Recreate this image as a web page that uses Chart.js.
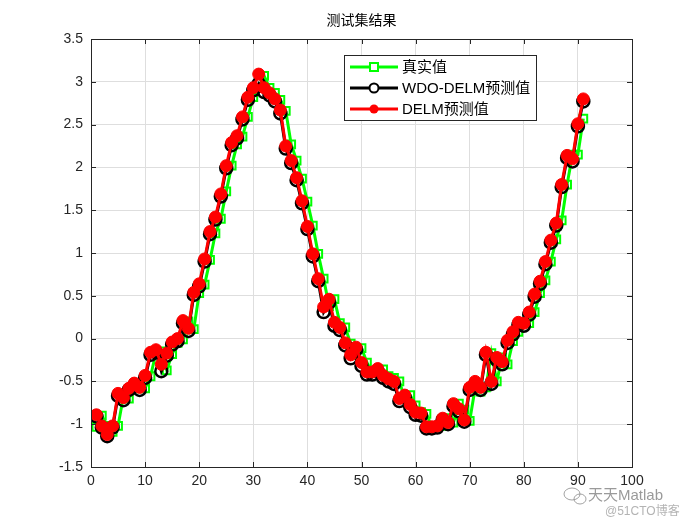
<!DOCTYPE html>
<html>
<head>
<meta charset="utf-8">
<script src="https://cdn.jsdelivr.net/npm/chart.js@4/dist/chart.umd.min.js"></script>
<style>
html,body{margin:0;padding:0;background:#fff;}
#wrap{width:700px;height:525px;position:relative;}
</style>
</head>
<body>
<div id="wrap"><canvas id="c" width="700" height="525"></canvas></div>
<script>
const titleText = "测试集结果";
const seriesNames = ["真实值", "WDO-DELM预测值", "DELM预测值"];
const xTicks = [0,10,20,30,40,50,60,70,80,90,100];
const yTicks = [-1.5,-1,-0.5,0,0.5,1,1.5,2,2.5,3,3.5];

const trueVals = [-1.03,-0.90,-1.02,-1.09,-1.02,-0.67,-0.70,-0.58,-0.53,-0.58,
 -0.44,-0.17,-0.15,-0.37,-0.18,-0.05,-0.01,0.20,0.11,0.53,
 0.63,0.92,1.23,1.40,1.72,2.02,2.27,2.36,2.59,2.82,
 2.93,3.07,2.93,2.87,2.79,2.66,2.27,2.08,1.87,1.60,
 1.32,0.99,0.70,0.38,0.46,0.18,0.13,-0.06,-0.19,-0.11,
 -0.28,-0.40,-0.38,-0.36,-0.44,-0.46,-0.50,-0.70,-0.66,-0.78,
 -0.86,-0.88,-1.03,-1.03,-1.02,-0.93,-0.98,-0.76,-0.83,-0.96,
 -0.58,-0.62,-0.57,-0.17,-0.50,-0.22,-0.30,-0.03,0.08,0.19,
 0.18,0.31,0.53,0.68,0.90,1.16,1.38,1.80,2.15,2.15,2.57];

const wdoVals = [-0.91,-1.04,-1.14,-1.04,-0.67,-0.72,-0.60,-0.55,-0.60,-0.46,
 -0.19,-0.16,-0.38,-0.20,-0.07,-0.03,0.18,0.09,0.51,0.61,
 0.90,1.22,1.39,1.66,1.99,2.26,2.34,2.56,2.79,2.90,
 2.98,2.88,2.84,2.77,2.63,2.22,2.05,1.85,1.58,1.28,
 0.96,0.67,0.31,0.42,0.15,0.10,-0.08,-0.23,-0.13,-0.32,
 -0.42,-0.42,-0.38,-0.46,-0.50,-0.53,-0.73,-0.69,-0.80,-0.89,
 -0.90,-1.05,-1.05,-1.04,-0.95,-1.00,-0.79,-0.85,-0.97,-0.60,
 -0.53,-0.60,-0.19,-0.53,-0.25,-0.30,-0.05,0.05,0.16,0.15,
 0.28,0.49,0.64,0.87,1.12,1.32,1.77,2.11,2.07,2.48,2.77];

const delmVals = [-0.89,-1.02,-1.12,-1.02,-0.64,-0.69,-0.58,-0.52,-0.57,-0.43,
 -0.16,-0.13,-0.30,-0.17,-0.04,0.00,0.21,0.12,0.54,0.64,
 0.93,1.25,1.42,1.69,2.02,2.29,2.37,2.59,2.82,2.93,
 3.09,2.93,2.87,2.80,2.67,2.25,2.08,1.88,1.61,1.31,
 0.99,0.70,0.37,0.46,0.19,0.13,-0.05,-0.19,-0.10,-0.28,
 -0.39,-0.39,-0.35,-0.43,-0.47,-0.50,-0.70,-0.66,-0.77,-0.86,
 -0.87,-1.03,-1.03,-1.02,-0.93,-0.98,-0.76,-0.82,-0.95,-0.57,
 -0.50,-0.57,-0.16,-0.50,-0.22,-0.27,-0.02,0.08,0.19,0.18,
 0.31,0.52,0.67,0.90,1.15,1.35,1.80,2.14,2.10,2.51,2.80];

const idx = trueVals.map((_, i) => i + 1);
const toPts = arr => arr.map((v, i) => ({x: idx[i], y: v}));

const FONT = "'Liberation Sans','Noto Sans CJK SC',Arial,sans-serif";
const AXIS_COLOR = '#262626';

const framePlugin = {
  id: 'frame',
  beforeDraw(chart) {
    const ctx = chart.ctx;
    ctx.save();
    ctx.fillStyle = '#fff';
    ctx.fillRect(0, 0, chart.width, chart.height);
    ctx.restore();
  },
  afterDatasetsDraw(chart) {
    const {ctx, chartArea: a, scales} = chart;
    ctx.save();
    ctx.strokeStyle = AXIS_COLOR;
    ctx.lineWidth = 1;
    ctx.strokeRect(Math.round(a.left) + 0.5, Math.round(a.top) + 0.5, Math.round(a.right - a.left), Math.round(a.bottom - a.top));
    const tl = 5;
    ctx.beginPath();
    xTicks.forEach(t => {
      const px = Math.round(scales.x.getPixelForValue(t)) + 0.5;
      ctx.moveTo(px, a.bottom); ctx.lineTo(px, a.bottom - tl);
      ctx.moveTo(px, a.top); ctx.lineTo(px, a.top + tl);
    });
    yTicks.forEach(t => {
      const py = Math.round(scales.y.getPixelForValue(t)) + 0.5;
      ctx.moveTo(a.left, py); ctx.lineTo(a.left + tl, py);
      ctx.moveTo(a.right, py); ctx.lineTo(a.right - tl, py);
    });
    ctx.stroke();
    // title
    ctx.fillStyle = '#000';
    ctx.font = '14px ' + FONT;
    ctx.textAlign = 'center';
    ctx.textBaseline = 'middle';
    ctx.fillText(titleText, (a.left + a.right) / 2, 21);
    // legend
    const lx = 344, ly = 55, lw = 192, lh = 65;
    ctx.fillStyle = '#fff';
    ctx.fillRect(lx, ly, lw, lh);
    ctx.strokeStyle = AXIS_COLOR;
    ctx.lineWidth = 1;
    ctx.strokeRect(lx + 0.5, ly + 0.5, lw, lh);
    const rows = [
      {c: '#00ff00', m: 'sq', y: 67},
      {c: '#000000', m: 'oc', y: 88},
      {c: '#ff0000', m: 'fc', y: 109}
    ];
    rows.forEach((r, i) => {
      ctx.strokeStyle = r.c;
      ctx.lineWidth = 3;
      ctx.beginPath();
      ctx.moveTo(350, r.y); ctx.lineTo(398, r.y);
      ctx.stroke();
      ctx.lineWidth = 2;
      if (r.m === 'sq') {
        ctx.fillStyle = '#fff';
        ctx.fillRect(370, r.y - 4, 8, 8);
        ctx.strokeRect(370, r.y - 4, 8, 8);
      } else if (r.m === 'oc') {
        ctx.beginPath(); ctx.arc(374, r.y, 4.5, 0, Math.PI * 2);
        ctx.fillStyle = '#fff'; ctx.fill(); ctx.stroke();
      } else {
        ctx.beginPath(); ctx.arc(374, r.y, 4.5, 0, Math.PI * 2);
        ctx.fillStyle = r.c; ctx.fill();
      }
      ctx.fillStyle = '#000';
      ctx.font = '15px ' + FONT;
      ctx.textAlign = 'left';
      ctx.textBaseline = 'middle';
      ctx.fillText(seriesNames[i], 402, r.y + 1);
    });
    // watermark
    ctx.fillStyle = 'rgba(120,120,120,0.75)';
    ctx.font = '15px ' + FONT;
    ctx.textAlign = 'left';
    ctx.fillText('天天Matlab', 588, 496);
    ctx.font = '12px ' + FONT;
    ctx.fillStyle = 'rgba(160,160,160,0.8)';
    ctx.fillText('@51CTO博客', 605, 512);
    ctx.strokeStyle = 'rgba(140,140,140,0.8)';
    ctx.lineWidth = 1;
    ctx.beginPath(); ctx.ellipse(572, 494, 8, 6, 0, 0, Math.PI * 2); ctx.stroke();
    ctx.beginPath(); ctx.ellipse(580, 499, 6, 5, 0, 0, Math.PI * 2); ctx.stroke();
    ctx.restore();
  }
};

new Chart(document.getElementById('c'), {
  type: 'line',
  data: {
    datasets: [
      {
        label: seriesNames[2], data: toPts(delmVals), order: 1,
        borderColor: '#ff0000', borderWidth: 3, backgroundColor: '#ff0000',
        pointStyle: 'circle', pointRadius: 6, pointBackgroundColor: '#ff0000',
        pointBorderColor: '#ff0000', pointBorderWidth: 1, tension: 0
      },
      {
        label: seriesNames[1], data: toPts(wdoVals), order: 2,
        borderColor: '#000000', borderWidth: 3,
        pointStyle: 'circle', pointRadius: 6, pointBackgroundColor: 'rgba(0,0,0,0)',
        pointBorderColor: '#000000', pointBorderWidth: 2.5, tension: 0
      },
      {
        label: seriesNames[0], data: toPts(trueVals), order: 3,
        borderColor: '#00ff00', borderWidth: 3,
        pointStyle: 'rect', pointRadius: 5.5, pointBackgroundColor: 'rgba(0,0,0,0)',
        pointBorderColor: '#00ff00', pointBorderWidth: 2, tension: 0
      }
    ]
  },
  options: {
    responsive: false,
    animation: false,
    devicePixelRatio: 1,
    layout: {padding: {left: 0, right: 68, top: 39, bottom: 0}},
    plugins: {legend: {display: false}, title: {display: false}, tooltip: {enabled: false}},
    scales: {
      x: {
        type: 'linear', min: 0, max: 100,
        afterFit(s) { s.height = 58; },
        afterBuildTicks(s) { s.ticks = xTicks.map(v => ({value: v})); },
        grid: {color: '#dedede', lineWidth: 1, drawTicks: false},
        border: {display: true, color: AXIS_COLOR},
        ticks: {color: AXIS_COLOR, font: {family: FONT, size: 14}, padding: 6, maxRotation: 0,
          callback: v => String(v)}
      },
      y: {
        type: 'linear', min: -1.5, max: 3.5,
        afterFit(s) { s.width = 91; },
        afterBuildTicks(s) { s.ticks = yTicks.map(v => ({value: v})); },
        grid: {color: '#dedede', lineWidth: 1, drawTicks: false},
        border: {display: true, color: AXIS_COLOR},
        ticks: {color: AXIS_COLOR, font: {family: FONT, size: 14}, padding: 8,
          callback: v => String(v)}
      }
    }
  },
  plugins: [framePlugin]
});
</script>
</body>
</html>
